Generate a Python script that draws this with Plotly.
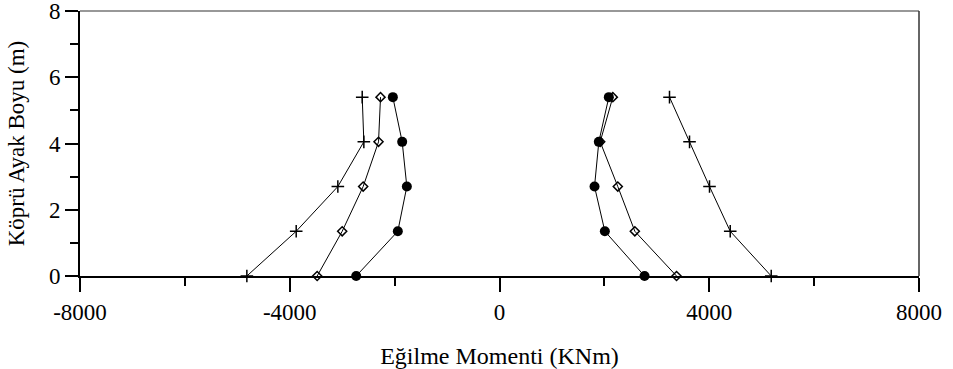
import plotly.graph_objects as go

heights = [0, 1.35, 2.7, 4.05, 5.4]

neg_plus = [-4818, -3877, -3083, -2587, -2618]
neg_diamond = [-3477, -3000, -2600, -2307, -2269]
neg_circle = [-2733, -1939, -1767, -1856, -2034]

pos_plus = [5182, 4400, 4005, 3624, 3242]
pos_diamond = [3376, 2581, 2256, 1920, 2161]
pos_circle = [2766, 2009, 1812, 1894, 2085]

x_ticks = [-8000, -4000, 0, 4000, 8000]
y_ticks = [0, 2, 4, 6, 8]

FONT = "Liberation Serif"
FS = 23

fig = go.Figure()

styles = {
    "plus": dict(symbol="cross-thin", size=9, color="black", line=dict(color="black", width=1.5)),
    "diamond": dict(symbol="diamond-open", size=7, color="black", line=dict(color="black", width=1.5)),
    "circle": dict(symbol="circle", size=10, color="black", line=dict(color="black", width=0)),
}

for xs, kind in [(neg_plus, "plus"), (neg_diamond, "diamond"), (neg_circle, "circle"),
                 (pos_plus, "plus"), (pos_diamond, "diamond"), (pos_circle, "circle")]:
    fig.add_trace(go.Scatter(
        x=xs, y=heights, mode="lines+markers",
        line=dict(color="black", width=1),
        marker=styles[kind], cliponaxis=False, showlegend=False,
    ))

fig.update_layout(
    width=953, height=369,
    margin=dict(l=80, r=34, t=11, b=93),
    paper_bgcolor="white", plot_bgcolor="white",
    font=dict(family=FONT, size=FS, color="black"),
    shapes=[
        dict(type="line", xref="paper", yref="paper", x0=0, x1=1, y0=1, y1=1,
             line=dict(color="#333333", width=1.2)),
        dict(type="line", xref="paper", yref="paper", x0=1, x1=1, y0=0, y1=1,
             line=dict(color="#333333", width=1.5)),
    ],
)

fig.update_xaxes(
    range=[-8000, 8000], tickvals=x_ticks, ticktext=[str(v) for v in x_ticks],
    showgrid=False, zeroline=False, automargin=False, ticklabeloverflow="allow",
    showline=True, linecolor="black", linewidth=2,
    ticks="outside", ticklen=14, tickwidth=2, tickcolor="black",
    minor=dict(dtick=2000, tick0=0, ticks="outside", ticklen=8, tickwidth=2, tickcolor="black", showgrid=False),
    title=dict(text="Eğilme Momenti (KNm)", standoff=24, font=dict(size=24)),
    tickfont=dict(size=FS),
)
fig.update_yaxes(
    range=[0, 8], tickvals=y_ticks, ticktext=[str(v) for v in y_ticks],
    showgrid=False, zeroline=False, automargin=False, ticklabeloverflow="allow",
    showline=True, linecolor="black", linewidth=2,
    ticks="outside", ticklen=13, tickwidth=2, tickcolor="black",
    minor=dict(dtick=1, tick0=0, ticks="outside", ticklen=8, tickwidth=2, tickcolor="black", showgrid=False),
    title=dict(text="Köprü Ayak Boyu (m)", standoff=18, font=dict(size=FS)),
    tickfont=dict(size=FS),
)

fig.write_html("out.html", config={"displayModeBar": False},
               post_script="document.body.style.margin='0';")
